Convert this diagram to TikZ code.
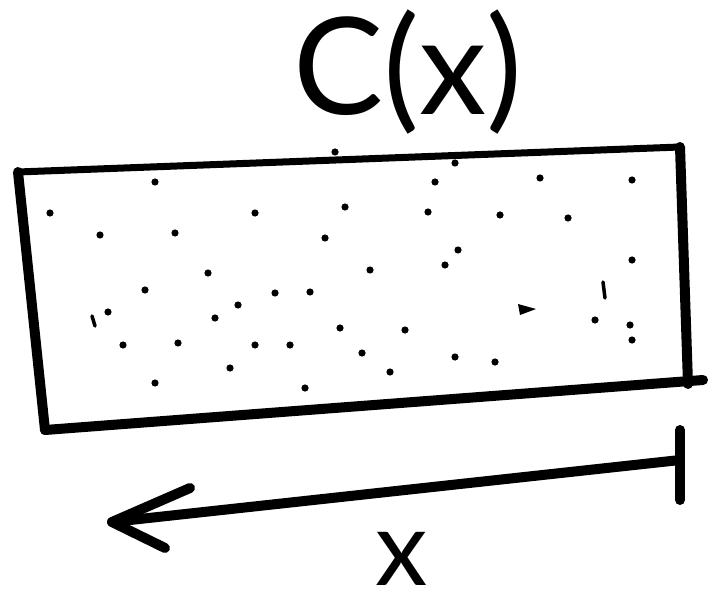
\documentclass[tikz,border=0pt]{standalone}
\usepackage{fontspec}
\setmainfont{Lato}
\begin{document}
\begin{tikzpicture}[x=1pt,y=-1pt,
  edge/.style={line width=10pt,line cap=round,line join=round},
  thinedge/.style={line width=7pt,line cap=round},
  lbl/.style={font=\fontsize{135}{140}\selectfont}]
\useasboundingbox (0,0) rectangle (714,612);
% box
\coordinate (tl) at (18,172);
\coordinate (tr) at (680,147);
\coordinate (br) at (688,384);
\coordinate (bl) at (45,430);
\draw[thinedge] (tl) -- (tr);
\draw[edge] (tr) -- (br);
\draw[edge] (tl) -- (bl);
\draw[edge] (bl) -- (703,380);
% dots
\foreach \p in {(155,182),(335,152),(455,163),(435,182),(540,178),(632,180),
 (50,213),(255,213),(345,207),(428,212),(500,215),(568,218),(100,235),(175,233),
 (325,238),(458,250),(445,265),(632,260),(208,273),(370,270),(145,290),(275,293),
 (310,292),(238,305),(215,318),(405,330),(340,328),(123,345),(178,343),(255,345),
 (290,345),(595,320),(630,325),(632,340),(362,353),(455,357),(495,362),(230,368),
 (155,383),(305,388),(390,372),(108,312)}
  \fill \p circle (3.6pt);
\draw[line width=3.5pt,line cap=round] (603,282) -- (605,298);
\draw[line width=3.5pt,line cap=round] (92,316) -- (95,326);
\fill (518,304) -- (536,309) -- (520,315) -- cycle;
% label C(x)
\node[lbl] (cx) at (408,72) {C(x)};
% arrow
\coordinate (bartop) at (680,430);
\coordinate (barbot) at (680,500);
\coordinate (tail) at (680,460);
\coordinate (head) at (112,522);
\draw[edge] (bartop) -- (barbot);
\draw[edge] (tail) -- (head);
\draw[edge] (190,488) -- (head) -- (165,548);
% label x
\node[font=\fontsize{105}{110}\selectfont,inner sep=0pt,anchor=base] (xl) at (402,585) {x};
\end{tikzpicture}
\end{document}
